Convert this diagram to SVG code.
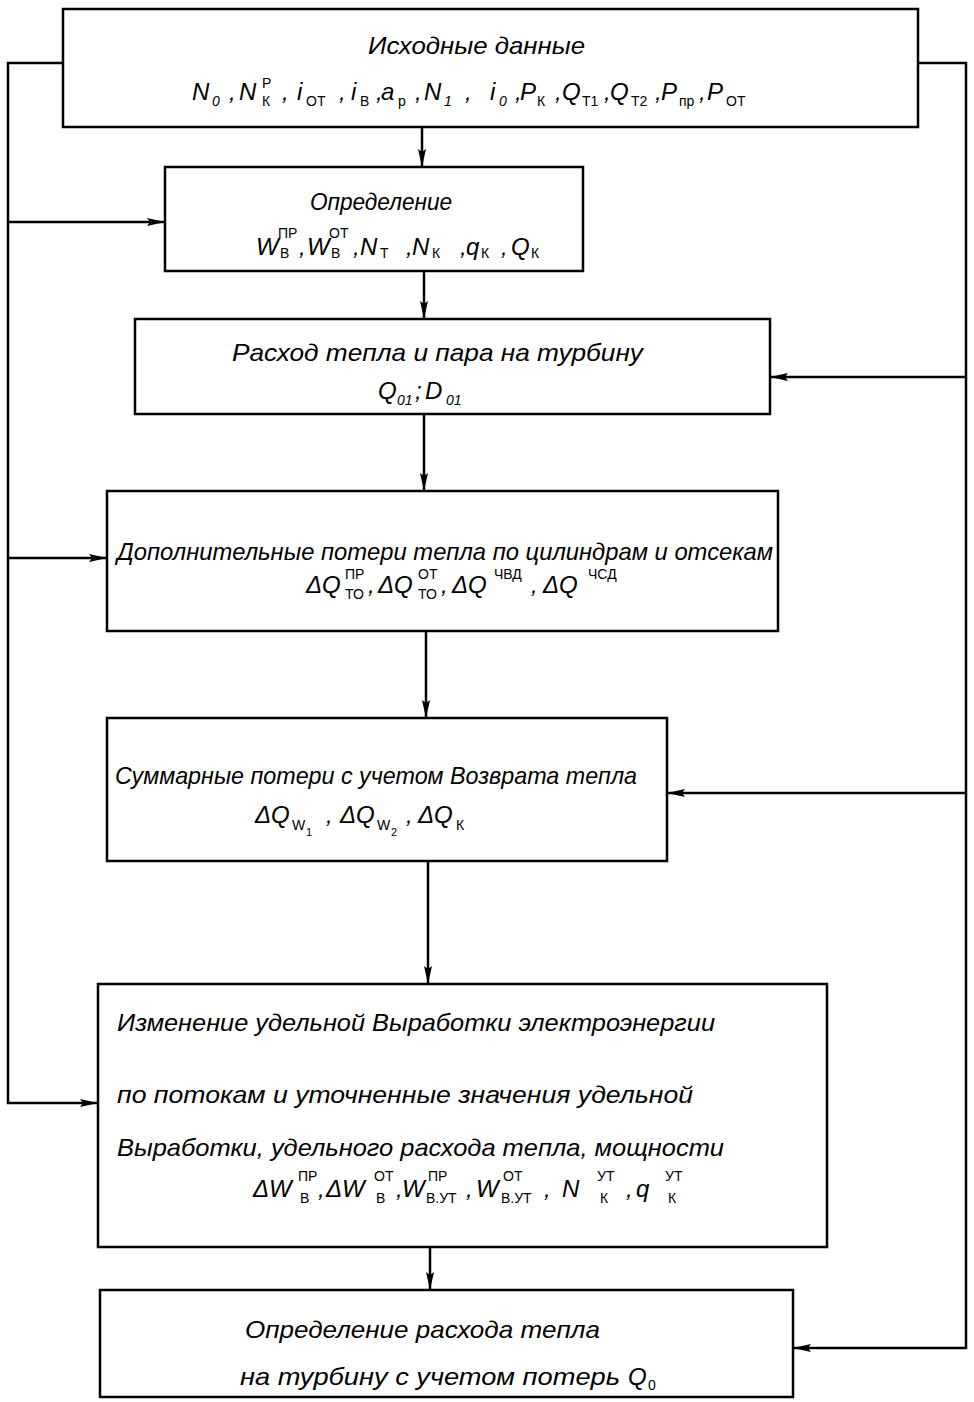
<svg xmlns="http://www.w3.org/2000/svg" width="974" height="1402" viewBox="0 0 974 1402">
<defs>
<marker id="ah" markerUnits="userSpaceOnUse" markerWidth="18" markerHeight="10" refX="18" refY="5" orient="auto">
<path d="M0,1 L18,5 L0,9 L3,5 z" fill="#000"/>
</marker>
<style>
.box{fill:#fff;stroke:#000;stroke-width:2.5}
.ln{fill:none;stroke:#000;stroke-width:2.5}
.t{font-family:"Liberation Sans",Arial,sans-serif;font-style:italic;font-size:24px;fill:#000}
.m{font-family:"Liberation Sans",Arial,sans-serif;font-style:italic;font-size:24px;fill:#000}
.s{font-family:"Liberation Sans",Arial,sans-serif;font-size:14px;fill:#000}
.ss{font-family:"Liberation Sans",Arial,sans-serif;font-size:11px;fill:#000}
</style>
</defs>
<rect width="974" height="1402" fill="#fff"/>

<g id="connectors">
<polyline class="ln" points="63,63 8,63 8,1103 98,1103" marker-end="url(#ah)"/>
<line class="ln" x1="8" y1="222" x2="165" y2="222" marker-end="url(#ah)"/>
<line class="ln" x1="8" y1="558" x2="107" y2="558" marker-end="url(#ah)"/>
<polyline class="ln" points="918,63 966,63 966,1348 793,1348" marker-end="url(#ah)"/>
<line class="ln" x1="966" y1="377" x2="770" y2="377" marker-end="url(#ah)"/>
<line class="ln" x1="966" y1="793" x2="667" y2="793" marker-end="url(#ah)"/>
<line class="ln" x1="422" y1="127" x2="422" y2="167" marker-end="url(#ah)"/>
<line class="ln" x1="424" y1="271" x2="424" y2="319" marker-end="url(#ah)"/>
<line class="ln" x1="424" y1="414" x2="424" y2="491" marker-end="url(#ah)"/>
<line class="ln" x1="426" y1="631" x2="426" y2="718" marker-end="url(#ah)"/>
<line class="ln" x1="428" y1="861" x2="428" y2="984" marker-end="url(#ah)"/>
<line class="ln" x1="430" y1="1247" x2="430" y2="1290" marker-end="url(#ah)"/>
</g>

<g id="n1">
<rect class="box" x="63" y="9" width="855" height="118"/>
<text class="t" x="368" y="54" textLength="217" lengthAdjust="spacingAndGlyphs">Исходные данные</text>
<text class="m" y="100"><tspan x="192">N</tspan><tspan x="229">,</tspan><tspan x="239">N</tspan><tspan x="282">,</tspan><tspan x="297">i</tspan><tspan x="339">,</tspan><tspan x="351">i</tspan><tspan x="376">,</tspan><tspan x="381">a</tspan><tspan x="415">,</tspan><tspan x="424">N</tspan><tspan x="465">,</tspan><tspan x="490">i</tspan><tspan x="515">,</tspan><tspan x="520">P</tspan><tspan x="555">,</tspan><tspan x="562">Q</tspan><tspan x="604">,</tspan><tspan x="610">Q</tspan><tspan x="655">,</tspan><tspan x="661">P</tspan><tspan x="699">,</tspan><tspan x="707">P</tspan></text>
<text class="s" y="106"><tspan x="212" font-style="italic">0</tspan><tspan x="262">К</tspan><tspan x="306">ОТ</tspan><tspan x="360">В</tspan><tspan x="398">р</tspan><tspan x="444" font-style="italic">1</tspan><tspan x="499" font-style="italic">0</tspan><tspan x="537">К</tspan><tspan x="582">Т1</tspan><tspan x="631">Т2</tspan><tspan x="679">пр</tspan><tspan x="726">ОТ</tspan></text>
<text class="s" x="262" y="88">Р</text>
</g>

<g id="n2">
<rect class="box" x="165" y="167" width="418" height="104"/>
<text class="t" x="310" y="210" textLength="142" lengthAdjust="spacingAndGlyphs">Определение</text>
<text class="m" y="255"><tspan x="256">W</tspan><tspan x="299">,</tspan><tspan x="307">W</tspan><tspan x="353">,</tspan><tspan x="360">N</tspan><tspan x="406">,</tspan><tspan x="412">N</tspan><tspan x="460">,</tspan><tspan x="466">q</tspan><tspan x="501">,</tspan><tspan x="511">Q</tspan></text>
<text class="s" y="238"><tspan x="278">ПР</tspan><tspan x="329">ОТ</tspan></text>
<text class="s" y="258"><tspan x="280">В</tspan><tspan x="331">В</tspan><tspan x="380">Т</tspan><tspan x="432">К</tspan><tspan x="481">К</tspan><tspan x="531">К</tspan></text>
</g>

<g id="n3">
<rect class="box" x="135" y="319" width="635" height="95"/>
<text class="t" x="232" y="361" textLength="411" lengthAdjust="spacingAndGlyphs">Расход тепла и пара на турбину</text>
<text class="m" y="399"><tspan x="378">Q</tspan><tspan x="415">;</tspan><tspan x="425">D</tspan></text>
<text class="s" y="405"><tspan x="397" font-style="italic">01</tspan><tspan x="446" font-style="italic">01</tspan></text>
</g>

<g id="n4">
<rect class="box" x="107" y="491" width="671" height="140"/>
<text class="t" x="117" y="560" textLength="656" lengthAdjust="spacingAndGlyphs">Дополнительные  потери  тепла  по цилиндрам и отсекам</text>
<text class="m" y="593"><tspan x="306">ΔQ</tspan><tspan x="368">,</tspan><tspan x="378">ΔQ</tspan><tspan x="441">,</tspan><tspan x="452">ΔQ</tspan><tspan x="531">,</tspan><tspan x="543">ΔQ</tspan></text>
<text class="s" y="579"><tspan x="345">ПР</tspan><tspan x="418">ОТ</tspan><tspan x="494">ЧВД</tspan><tspan x="588">ЧСД</tspan></text>
<text class="s" y="599"><tspan x="345">ТО</tspan><tspan x="418">ТО</tspan></text>
</g>

<g id="n5">
<rect class="box" x="107" y="718" width="560" height="143"/>
<text class="t" x="115" y="784" textLength="522" lengthAdjust="spacingAndGlyphs">Суммарные потери с учетом Возврата тепла</text>
<text class="m" y="823"><tspan x="255">ΔQ</tspan><tspan x="326">,</tspan><tspan x="340">ΔQ</tspan><tspan x="406">,</tspan><tspan x="418">ΔQ</tspan></text>
<text class="s" y="830"><tspan x="292">W</tspan><tspan x="377">W</tspan><tspan x="456">К</tspan></text>
<text class="ss" y="836"><tspan x="306">1</tspan><tspan x="391">2</tspan></text>
</g>

<g id="n6">
<rect class="box" x="98" y="984" width="729" height="263"/>
<text class="t" x="117" y="1031" textLength="598" lengthAdjust="spacingAndGlyphs">Изменение удельной Выработки  электроэнергии</text>
<text class="t" x="117" y="1103" textLength="576" lengthAdjust="spacingAndGlyphs">по потокам и уточненные значения  удельной</text>
<text class="t" x="117" y="1156" textLength="607" lengthAdjust="spacingAndGlyphs">Выработки, удельного расхода  тепла, мощности</text>
<text class="m" y="1197"><tspan x="253">ΔW</tspan><tspan x="318">,</tspan><tspan x="326">ΔW</tspan><tspan x="396">,</tspan><tspan x="402">W</tspan><tspan x="466">,</tspan><tspan x="476">W</tspan><tspan x="544">,</tspan><tspan x="562">N</tspan><tspan x="626">,</tspan><tspan x="636">q</tspan></text>
<text class="s" y="1181"><tspan x="298">ПР</tspan><tspan x="374">ОТ</tspan><tspan x="428">ПР</tspan><tspan x="503">ОТ</tspan><tspan x="597">УТ</tspan><tspan x="665">УТ</tspan></text>
<text class="s" y="1203"><tspan x="300">В</tspan><tspan x="376">В</tspan><tspan x="426">В.УТ</tspan><tspan x="501">В.УТ</tspan><tspan x="600">К</tspan><tspan x="668">К</tspan></text>
</g>

<g id="n7">
<rect class="box" x="100" y="1290" width="693" height="107"/>
<text class="t" x="245" y="1338" textLength="355" lengthAdjust="spacingAndGlyphs">Определение  расхода  тепла</text>
<text class="t" x="240" y="1385" textLength="380" lengthAdjust="spacingAndGlyphs">на  турбину  с учетом потерь</text>
<text class="m" x="628" y="1385">Q</text>
<text class="s" x="648" y="1390">0</text>
</g>
</svg>
